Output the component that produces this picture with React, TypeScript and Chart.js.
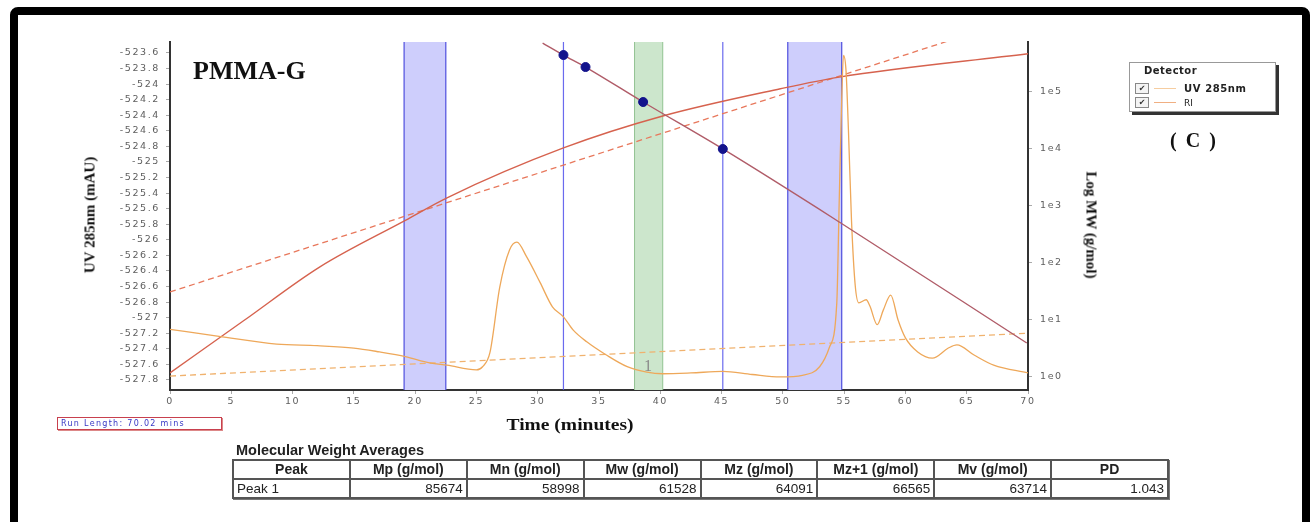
import React, { useEffect, useRef } from 'react';
import { Chart, registerables } from 'chart.js';

Chart.register(...registerables);

// ---- data ----
const uvTime = [0, 4, 8.7, 12, 15, 17.1, 19.2, 21.2, 22.6, 25, 25.5, 26.1, 26.9, 27.7, 28.3, 29.1, 30.2, 31.2, 32.1, 32.9, 34, 35.6, 37.3, 38.9, 40.2, 42.5, 45.1, 47.5, 49.8, 51.6, 53, 53.8, 54.4, 54.6, 54.8, 54.95, 55.15, 55.35, 55.6, 55.9, 56.2, 56.8, 57.1, 57.7, 58.2, 58.8, 59.4, 60, 61, 62.2, 63.5, 64.2, 65.6, 67.2, 70];
const uvSignal = [-527.15, -527.24, -527.34, -527.36, -527.39, -527.44, -527.5, -527.58, -527.61, -527.67, -527.63, -527.45, -526.61, -526.13, -526.03, -526.22, -526.55, -526.86, -526.99, -527.16, -527.31, -527.48, -527.63, -527.7, -527.72, -527.71, -527.69, -527.73, -527.76, -527.74, -527.63, -527.38, -526.81, -525.49, -524.2, -523.63, -523.82, -524.59, -525.75, -526.58, -526.81, -526.77, -526.85, -527.09, -526.9, -526.71, -527.03, -527.26, -527.44, -527.52, -527.39, -527.35, -527.48, -527.61, -527.71];

const fitTime = [0, 6, 12.2, 19.2, 22.6, 32.1, 40.2, 49.8, 54.6, 70];
const fitSignal = [-527.71, -527.04, -526.35, -525.75, -525.46, -524.82, -524.41, -524.06, -523.91, -523.61];

const upperTime = [0, 64];
const upperSignal = [-526.67, -523.42];
const lowerTime = [0, 70];
const lowerSignal = [-527.75, -527.2];

const calTime = [30.4, 32.1, 33.9, 38.6, 45.1, 54.6, 69.9];
const calMW = [714000, 440000, 271000, 65900, 9890, 518, 3.9];
const calPointTime = [32.1, 33.9, 38.6, 45.1];
const calPointMW = [440000, 271000, 65900, 9890];

const uvTicks = [-523.6, -523.8, -524, -524.2, -524.4, -524.6, -524.8, -525, -525.2, -525.4, -525.6, -525.8, -526, -526.2, -526.4, -526.6, -526.8, -527, -527.2, -527.4, -527.6, -527.8];
const mwTicks = [1, 10, 100, 1000, 10000, 100000];
const timeTicks = [0, 5, 10, 15, 20, 25, 30, 35, 40, 45, 50, 55, 60, 65, 70];

const integrationBands = [[19.1, 22.5], [50.4, 54.8]];
const peakBand = [37.9, 40.2];
const calMarkers = [32.1, 45.1];
const peakLabelTime = 39.0;
const peakLabelSignal = -527.63;
const peakLabelText = '1';

const tableHeaders = ['Peak', 'Mp (g/mol)', 'Mn (g/mol)', 'Mw (g/mol)', 'Mz (g/mol)', 'Mz+1 (g/mol)', 'Mv (g/mol)', 'PD'];
const peakRow = ['Peak 1', '85674', '58998', '61528', '64091', '66565', '63714', '1.043'];

const pts = (xs: number[], ys: number[]) => xs.map((x, i) => ({ x, y: ys[i] }));

const TICK_FONT = { family: 'DejaVu Sans', size: 9.5 };

export default function App() {
  const ref = useRef<HTMLCanvasElement | null>(null);

  useEffect(() => {
    if (!ref.current) return;
    const overlay = {
      id: 'overlay',
      beforeDraw(chart: any) {
        chart.ctx.letterSpacing = '1.6px';
      },
      beforeDatasetsDraw(chart: any) {
        const { ctx, chartArea, scales } = chart;
        const { top, bottom } = chartArea;
        const x = scales.x;
        ctx.save();
        for (const [a, b] of integrationBands) {
          const x1 = x.getPixelForValue(a);
          const x2 = x.getPixelForValue(b);
          ctx.fillStyle = 'rgb(206,206,252)';
          ctx.fillRect(x1, top, x2 - x1, bottom - top);
          ctx.strokeStyle = '#5a5ae0';
          ctx.lineWidth = 1.3;
          ctx.beginPath();
          ctx.moveTo(x1, top); ctx.lineTo(x1, bottom);
          ctx.moveTo(x2, top); ctx.lineTo(x2, bottom);
          ctx.stroke();
        }
        {
          const x1 = x.getPixelForValue(peakBand[0]);
          const x2 = x.getPixelForValue(peakBand[1]);
          ctx.fillStyle = 'rgb(204,230,204)';
          ctx.fillRect(x1, top, x2 - x1, bottom - top);
          ctx.strokeStyle = '#93c493';
          ctx.lineWidth = 1;
          ctx.beginPath();
          ctx.moveTo(x1, top); ctx.lineTo(x1, bottom);
          ctx.moveTo(x2, top); ctx.lineTo(x2, bottom);
          ctx.stroke();
        }
        ctx.strokeStyle = 'rgba(80,80,235,0.85)';
        ctx.lineWidth = 1.2;
        for (const m of calMarkers) {
          const px = x.getPixelForValue(m);
          ctx.beginPath();
          ctx.moveTo(px, top); ctx.lineTo(px, bottom);
          ctx.stroke();
        }
        ctx.restore();
      },
      afterDatasetsDraw(chart: any) {
        const { ctx, scales } = chart;
        ctx.save();
        ctx.letterSpacing = '0px';
        ctx.fillStyle = '#8a8a8a';
        ctx.font = '16px "Liberation Serif"';
        ctx.textAlign = 'center';
        ctx.textBaseline = 'middle';
        ctx.fillText(peakLabelText, scales.x.getPixelForValue(peakLabelTime), scales.y.getPixelForValue(peakLabelSignal));
        ctx.restore();
      },
    };

    const chart = new Chart(ref.current, {
      type: 'line',
      data: {
        datasets: [
          {
            label: 'cal points',
            data: pts(calPointTime, calPointMW),
            yAxisID: 'y2',
            showLine: false,
            pointRadius: 4.5,
            pointBackgroundColor: '#13138c',
            pointBorderColor: '#13138c',
          },
          {
            label: 'calibration',
            data: pts(calTime, calMW),
            yAxisID: 'y2',
            borderColor: 'rgb(176,92,104)',
            borderWidth: 1.4,
            pointRadius: 0,
            cubicInterpolationMode: 'monotone',
          },
          {
            label: 'UV 285nm',
            data: pts(uvTime, uvSignal),
            yAxisID: 'y',
            borderColor: 'rgb(238,168,90)',
            borderWidth: 1.3,
            pointRadius: 0,
            cubicInterpolationMode: 'monotone',
          },
          {
            label: 'fit',
            data: pts(fitTime, fitSignal),
            yAxisID: 'y',
            borderColor: 'rgb(214,98,78)',
            borderWidth: 1.4,
            pointRadius: 0,
            cubicInterpolationMode: 'monotone',
          },
          {
            label: 'upper',
            data: pts(upperTime, upperSignal),
            yAxisID: 'y',
            borderColor: 'rgb(232,120,92)',
            borderWidth: 1.3,
            borderDash: [6, 4],
            pointRadius: 0,
          },
          {
            label: 'lower',
            data: pts(lowerTime, lowerSignal),
            yAxisID: 'y',
            borderColor: 'rgb(240,178,110)',
            borderWidth: 1.3,
            borderDash: [6, 4],
            pointRadius: 0,
          },
        ] as any,
      },
      options: {
        animation: false,
        responsive: false,
        layout: { padding: { left: 60, right: 202, top: 42, bottom: 92 } },
        plugins: { legend: { display: false }, tooltip: { enabled: false } },
        elements: { line: { fill: false } },
        scales: {
          x: {
            type: 'linear',
            min: 0,
            max: 70,
            afterBuildTicks(s: any) { s.ticks = timeTicks.map((v) => ({ value: v })); },
            afterFit(s: any) { s.height = 40; },
            ticks: { color: '#5e5e5e', font: TICK_FONT, padding: 2, autoSkip: false, maxRotation: 0, callback: (v: any) => String(v) },
            grid: { drawOnChartArea: false, tickLength: 4, color: '#aaa' },
            border: { color: '#333', width: 2 },
          },
          y: {
            type: 'linear',
            position: 'left',
            min: -527.929,
            max: -523.459,
            afterBuildTicks(s: any) { s.ticks = uvTicks.map((v) => ({ value: v })); },
            afterFit(s: any) { s.width = 110; },
            ticks: {
              color: '#5e5e5e', font: TICK_FONT, padding: 6, autoSkip: false,
              callback: (v: any) => String(parseFloat(Number(v).toFixed(1))),
            },
            grid: { drawOnChartArea: false, tickLength: 4, color: '#aaa' },
            border: { color: '#333', width: 2 },
          },
          y2: {
            type: 'logarithmic',
            position: 'right',
            min: 0.584,
            max: 744700,
            afterBuildTicks(s: any) { s.ticks = mwTicks.map((v) => ({ value: v })); },
            afterFit(s: any) { s.width = 80; },
            ticks: {
              color: '#5e5e5e', font: TICK_FONT, padding: 8, autoSkip: false,
              callback: (v: any) => '1e' + Math.round(Math.log10(Number(v))),
            },
            grid: { drawOnChartArea: false, tickLength: 4, color: '#aaa' },
            border: { color: '#333', width: 2 },
          },
        },
      } as any,
      plugins: [overlay],
    });
    return () => chart.destroy();
  }, []);

  const serif = '"Liberation Serif", "Times New Roman", serif';
  const sans = '"Liberation Sans", Arial, sans-serif';
  const colLeft = 232;
  const tableWidth = 1167 - colLeft;
  const colW = tableWidth / 8;

  const check = (
    <span style={{ display: 'inline-block', width: 12, height: 9, border: '1px solid #888', fontSize: 8, lineHeight: '9px', textAlign: 'center', color: '#333', background: '#f4f4f4' }}>✔</span>
  );

  const cell = { border: '2px solid #555', padding: '0 3px', lineHeight: '15px', whiteSpace: 'nowrap' as const, overflow: 'hidden' };

  return (
    <div style={{ position: 'fixed', left: 0, top: 0, width: 1310, height: 522, background: '#fff', overflow: 'hidden' }}>
      <div style={{ position: 'absolute', left: 10, top: 7, width: 1300, height: 560, border: '8px solid #000', borderRadius: 8, boxSizing: 'border-box' }} />
      <canvas ref={ref} width={1310} height={522} style={{ position: 'absolute', left: 0, top: 0, width: 1310, height: 522 }} />

      <div style={{ position: 'absolute', left: 193, top: 58, fontFamily: serif, fontWeight: 'bold', fontSize: 26, lineHeight: '26px', color: '#111', whiteSpace: 'nowrap' }}>PMMA-G</div>

      <div style={{ position: 'absolute', left: 90, top: 215, transform: 'translate(-50%,-50%) rotate(-90deg)', fontFamily: serif, fontWeight: 'bold', fontSize: 15, whiteSpace: 'nowrap', color: '#111' }}>UV 285nm (mAU)</div>
      <div style={{ position: 'absolute', left: 1091, top: 225, transform: 'translate(-50%,-50%) rotate(90deg)', fontFamily: serif, fontWeight: 'bold', fontSize: 15, whiteSpace: 'nowrap', color: '#111' }}>Log MW (g/mol)</div>
      <div style={{ position: 'absolute', left: 570, top: 425, transform: 'translate(-50%,-50%) scaleX(1.22)', fontFamily: serif, fontWeight: 'bold', fontSize: 16, whiteSpace: 'nowrap', color: '#111' }}>Time (minutes)</div>

      <div style={{ position: 'absolute', left: 1129, top: 62, width: 147, height: 50, border: '1px solid #999', boxShadow: '3px 3px 0 #333', background: '#fff', boxSizing: 'border-box', fontFamily: '"DejaVu Sans", sans-serif', fontSize: 10, color: '#222' }}>
        <div style={{ position: 'absolute', left: 14, top: 2, fontWeight: 'bold', letterSpacing: 0.5 }}>Detector</div>
        <div style={{ position: 'absolute', left: 5, top: 20, display: 'flex', alignItems: 'center' }}>
          {check}
          <span style={{ display: 'inline-block', width: 22, height: 1.5, background: 'rgb(246,205,160)', margin: '0 8px 0 5px' }} />
          <span style={{ fontWeight: 'bold', letterSpacing: 0.6 }}>UV 285nm</span>
        </div>
        <div style={{ position: 'absolute', left: 5, top: 34, display: 'flex', alignItems: 'center' }}>
          {check}
          <span style={{ display: 'inline-block', width: 22, height: 1.5, background: 'rgb(240,175,130)', margin: '0 8px 0 5px' }} />
          <span style={{ fontSize: 9 }}>RI</span>
        </div>
      </div>

      <div style={{ position: 'absolute', left: 1194, top: 140, transform: 'translate(-50%,-50%)', fontFamily: serif, fontWeight: 'bold', fontSize: 20, letterSpacing: 2, whiteSpace: 'pre', color: '#111' }}>( C )</div>

      <div style={{ position: 'absolute', left: 57, top: 417, width: 165, height: 13, border: '1px solid #c8404e', boxShadow: '1px 1px 0 #d88', boxSizing: 'border-box', fontFamily: '"DejaVu Sans", sans-serif', fontSize: 8, lineHeight: '11px', paddingLeft: 3, letterSpacing: 1.3, color: '#3636c4', whiteSpace: 'nowrap' }}>Run Length: 70.02 mins</div>

      <div style={{ position: 'absolute', left: 236, top: 442, fontFamily: sans, fontWeight: 'bold', fontSize: 14.5, color: '#222', whiteSpace: 'nowrap' }}>Molecular Weight Averages</div>

      <table style={{ position: 'absolute', left: colLeft, top: 459, width: tableWidth, borderCollapse: 'collapse', tableLayout: 'fixed', fontFamily: sans, color: '#222', boxShadow: '1px 1px 0 #777' }}>
        <colgroup>
          {tableHeaders.map((h) => <col key={h} style={{ width: colW }} />)}
        </colgroup>
        <tbody>
          <tr style={{ height: 19 }}>
            {tableHeaders.map((h) => (
              <td key={h} style={{ ...cell, textAlign: 'center', fontWeight: 'bold', fontSize: 14 }}>{h}</td>
            ))}
          </tr>
          <tr style={{ height: 19 }}>
            {peakRow.map((c, i) => (
              <td key={i} style={{ ...cell, textAlign: i === 0 ? 'left' : 'right', fontSize: 13.5 }}>{c}</td>
            ))}
          </tr>
        </tbody>
      </table>
    </div>
  );
}
